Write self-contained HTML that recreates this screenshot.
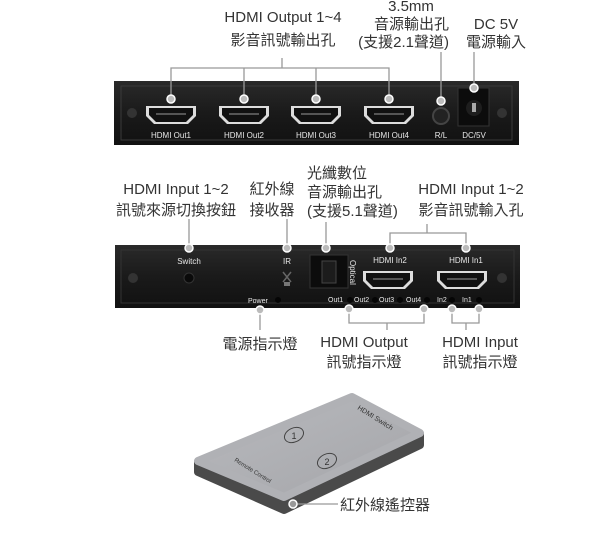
<!DOCTYPE html>
<html><head><meta charset="utf-8"><style>
html,body{margin:0;padding:0;background:#fff;}
svg{display:block;}
text{font-family:"Liberation Sans","Noto Sans CJK TC",sans-serif;fill:#333;}
.l{font-size:15px;}
.s{font-size:8px;fill:#e8e8e8;}
</style></head><body>
<svg width="600" height="542" viewBox="0 0 600 542" xmlns="http://www.w3.org/2000/svg">
<defs>
<linearGradient id="dev" x1="0" y1="0" x2="0" y2="1"><stop offset="0" stop-color="#2a2a2a"/><stop offset="0.5" stop-color="#1a1a1a"/><stop offset="1" stop-color="#111"/></linearGradient>
<linearGradient id="face" x1="0" y1="0" x2="1" y2="1"><stop offset="0" stop-color="#b9babe"/><stop offset="1" stop-color="#a4a5a9"/></linearGradient>
<g id="hdmi"><path d="M-25,-9 H25 V1 L17,9 H-17 L-25,1 Z" fill="#ddd"/><path d="M-22,-7 H22 V0 L15,7 H-15 L-22,0 Z" fill="#111"/><rect x="-15" y="-2" width="30" height="2" fill="#555"/></g>
</defs>

<!-- top texts -->
<text class="l" x="283" y="22" text-anchor="middle">HDMI Output 1~4</text>
<text class="l" x="283" y="45" text-anchor="middle">影音訊號輸出孔</text>
<text class="l" x="411" y="11" text-anchor="middle">3.5mm</text>
<text class="l" x="449" y="29" text-anchor="end">音源輸出孔</text>
<text class="l" x="449" y="47" text-anchor="end">(支援2.1聲道)</text>
<text class="l" x="496" y="29" text-anchor="middle">DC 5V</text>
<text class="l" x="496" y="47" text-anchor="middle">電源輸入</text>

<!-- top device -->
<rect x="114" y="81" width="405" height="64" fill="url(#dev)"/>
<rect x="121" y="86" width="391" height="54" fill="none" stroke="#3a3a3a"/>
<circle cx="132" cy="113" r="5" fill="#333"/><circle cx="502" cy="113" r="5" fill="#333"/>
<use href="#hdmi" x="171" y="115"/><use href="#hdmi" x="244" y="115"/><use href="#hdmi" x="316" y="115"/><use href="#hdmi" x="389" y="115"/>
<text class="s" x="171" y="138" text-anchor="middle">HDMI Out1</text>
<text class="s" x="244" y="138" text-anchor="middle">HDMI Out2</text>
<text class="s" x="316" y="138" text-anchor="middle">HDMI Out3</text>
<text class="s" x="389" y="138" text-anchor="middle">HDMI Out4</text>
<circle cx="441" cy="116" r="8" fill="#222" stroke="#444" stroke-width="2"/>
<text class="s" x="441" y="138" text-anchor="middle">R/L</text>
<rect x="458" y="88" width="31" height="38" fill="#0c0c0c" stroke="#333"/>
<circle cx="474" cy="108" r="8" fill="#1e1e1e"/><rect x="472" y="103" width="4" height="9" fill="#aaa"/>
<text class="s" x="474" y="138" text-anchor="middle">DC/5V</text>
<g stroke="#999" stroke-width="1.3" fill="none">
<path d="M171,99 V68 H389 V99 M244,68 V99 M316,68 V99 M282,68 V58"/>
<path d="M441,52 V101 M474,52 V88"/>
</g>
<g fill="#bbb" stroke="#fff" stroke-width="1.5">
<circle cx="171" cy="99" r="4"/><circle cx="244" cy="99" r="4"/><circle cx="316" cy="99" r="4"/><circle cx="389" cy="99" r="4"/><circle cx="441" cy="101" r="4"/><circle cx="474" cy="88" r="4"/>
</g>

<!-- middle texts -->
<text class="l" x="176" y="194" text-anchor="middle">HDMI Input 1~2</text>
<text class="l" x="176" y="215" text-anchor="middle">訊號來源切換按鈕</text>
<text class="l" x="272" y="194" text-anchor="middle">紅外線</text>
<text class="l" x="272" y="215" text-anchor="middle">接收器</text>
<text class="l" x="307" y="178">光纖數位</text>
<text class="l" x="307" y="197">音源輸出孔</text>
<text class="l" x="307" y="216">(支援5.1聲道)</text>
<text class="l" x="471" y="194" text-anchor="middle">HDMI Input 1~2</text>
<text class="l" x="471" y="215" text-anchor="middle">影音訊號輸入孔</text>

<!-- second device -->
<rect x="115" y="245" width="405" height="63" fill="url(#dev)"/>
<rect x="121" y="250" width="393" height="53" fill="none" stroke="#333"/>
<circle cx="133" cy="278" r="5" fill="#333"/><circle cx="502" cy="278" r="5" fill="#333"/>
<text class="s" x="189" y="264" text-anchor="middle">Switch</text>
<circle cx="189" cy="278" r="5" fill="#0a0a0a" stroke="#333"/>
<text class="s" x="287" y="264" text-anchor="middle">IR</text>
<path d="M283,272 L291,282 M291,272 L283,282" stroke="#666" stroke-width="1.5"/>
<rect x="284" y="282" width="6" height="4" fill="#777"/>
<rect x="310" y="255" width="38" height="33" fill="#0c0c0c" stroke="#333"/>
<rect x="322" y="261" width="14" height="22" fill="#1c1c1c" stroke="#444"/>
<text class="s" transform="translate(350,260) rotate(90)">Optical</text>
<text class="s" x="390" y="263" text-anchor="middle">HDMI In2</text>
<text class="s" x="466" y="263" text-anchor="middle">HDMI In1</text>
<use href="#hdmi" x="388" y="280"/><use href="#hdmi" x="462" y="280"/>
<text class="s" style="font-size:7px" x="248" y="303">Power</text>
<text class="s" style="font-size:7px" x="328" y="302">Out1</text>
<text class="s" style="font-size:7px" x="354" y="302">Out2</text>
<text class="s" style="font-size:7px" x="379" y="302">Out3</text>
<text class="s" style="font-size:7px" x="406" y="302">Out4</text>
<text class="s" style="font-size:7px" x="437" y="302">In2</text>
<text class="s" style="font-size:7px" x="462" y="302">In1</text>
<g fill="#050505"><circle cx="278" cy="300" r="3"/><circle cx="350" cy="300" r="3"/><circle cx="375" cy="300" r="3"/><circle cx="400" cy="300" r="3"/><circle cx="427" cy="300" r="3"/><circle cx="452" cy="300" r="3"/><circle cx="479" cy="300" r="3"/></g>
<g stroke="#999" stroke-width="1.3" fill="none">
<path d="M189,219 V248 M287,219 V248 M326,222 V248"/>
<path d="M390,248 V233 H466 V248 M427,233 V224"/>
<path d="M260,310 V330"/>
<path d="M349,309 V323 H424 V309 M387,323 V330"/>
<path d="M452,309 V323 H479 V309 M466,323 V330"/>
</g>
<g fill="#bbb" stroke="#fff" stroke-width="1.5">
<circle cx="189" cy="248" r="4"/><circle cx="287" cy="248" r="4"/><circle cx="326" cy="248" r="4"/><circle cx="390" cy="248" r="4"/><circle cx="466" cy="248" r="4"/>
<circle cx="260" cy="310" r="4"/><circle cx="349" cy="309" r="4"/><circle cx="424" cy="309" r="4"/><circle cx="452" cy="309" r="4"/><circle cx="479" cy="309" r="4"/>
</g>
<text class="l" x="260" y="349" text-anchor="middle">電源指示燈</text>
<text class="l" x="364" y="347" text-anchor="middle">HDMI Output</text>
<text class="l" x="364" y="367" text-anchor="middle">訊號指示燈</text>
<text class="l" x="480" y="347" text-anchor="middle">HDMI Input</text>
<text class="l" x="480" y="367" text-anchor="middle">訊號指示燈</text>

<!-- remote -->
<polygon points="198,462 198,472 284,510 420,445 420,434 284,497" fill="#4a4a4a" stroke="#4a4a4a" stroke-width="8" stroke-linejoin="round"/>
<polygon points="198,461 352,397 420,433 284,497" fill="url(#face)" stroke="#b0b1b5" stroke-width="8" stroke-linejoin="round"/>
<ellipse cx="294" cy="435" rx="10" ry="7" transform="rotate(-25 294 435)" fill="none" stroke="#444"/>
<text x="294" y="439" font-size="9" text-anchor="middle" fill="#444">1</text>
<ellipse cx="327" cy="461" rx="10" ry="7" transform="rotate(-25 327 461)" fill="none" stroke="#444"/>
<text x="327" y="465" font-size="9" text-anchor="middle" fill="#444">2</text>
<text transform="translate(357,409) rotate(32)" font-size="7" fill="#444">HDMI Switch</text>
<text transform="translate(234,461) rotate(32)" font-size="6" fill="#444">Remote Control</text>
<line x1="293" y1="504" x2="338" y2="504" stroke="#999" stroke-width="1.3"/>
<circle cx="293" cy="504" r="4" fill="#999" stroke="#fff" stroke-width="1.5"/>
<text class="l" x="340" y="510">紅外線遙控器</text>
</svg>
</body></html>
